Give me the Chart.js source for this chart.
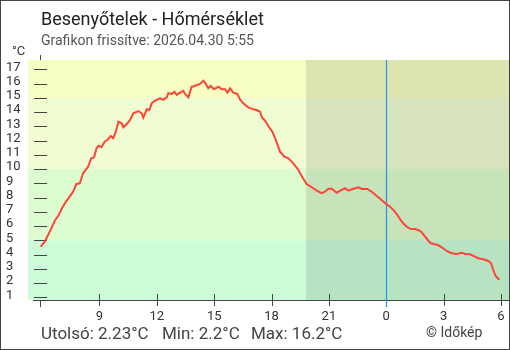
<!DOCTYPE html>
<html>
<head>
<meta charset="utf-8">
<script src="https://cdn.jsdelivr.net/npm/chart.js@4.4.1/dist/chart.umd.min.js"></script>
<style>
  html, body { margin: 0; padding: 0; background: #fff; }
  canvas { display: block; }
</style>
</head>
<body>
<canvas id="chart" width="510" height="350"></canvas>
<script>
// Station and refresh time shown in the header
const stationName = 'Besenyőtelek';
const updatedAt = '2026.04.30 5:55';

// Measurement times, in hours counted from the previous day's midnight (24 = midnight)
const hours = [
  5.917, 6.14, 6.31, 6.48, 6.66, 6.87, 7.04, 7.21, 7.44, 7.62,
  7.79, 7.97, 8.14, 8.40, 8.57, 8.72, 8.84, 8.96, 9.10, 9.27,
  9.45, 9.59, 9.71, 9.83, 9.99, 10.16, 10.25, 10.43, 10.60, 10.77,
  11.03, 11.21, 11.29, 11.47, 11.61, 11.73, 11.90, 12.17, 12.34, 12.52,
  12.60, 12.78, 12.91, 13.04, 13.21, 13.39, 13.47, 13.65, 13.82, 14.00,
  14.09, 14.26, 14.43, 14.52, 14.69, 14.82, 14.99, 15.22, 15.39, 15.57,
  15.69, 15.83, 16.00, 16.21, 16.35, 16.52, 16.78, 17.05, 17.22, 17.40,
  17.49, 17.66, 17.83, 18.04, 18.22, 18.35, 18.44, 18.67, 18.88, 19.14,
  19.40, 19.61, 19.84, 20.10, 20.36, 20.62, 20.80, 20.97, 21.15, 21.41,
  21.67, 21.84, 22.02, 22.25, 22.54, 22.72, 23.01, 23.24, 23.50, 23.76,
  23.99, 24.20, 24.37, 24.55, 24.72, 24.89, 25.07, 25.28, 25.50, 25.68,
  25.85, 26.03, 26.20, 26.34, 26.55, 26.72, 26.90, 27.16, 27.42, 27.68,
  27.95, 28.12, 28.38, 28.64, 28.81, 29.07, 29.34, 29.48, 29.60, 29.72,
  29.917
];

// Air temperature, °C
const temperatures = [
  4.55, 4.90, 5.37, 5.84, 6.37, 6.77, 7.25, 7.64, 8.06, 8.41,
  8.95, 9.00, 9.70, 10.16, 10.75, 10.82, 11.46, 11.64, 11.53, 11.92,
  12.09, 12.32, 12.16, 12.51, 13.32, 13.21, 12.93, 13.16, 13.44, 13.91,
  14.07, 13.91, 13.60, 14.19, 14.14, 14.61, 14.80, 14.96, 14.85, 15.03,
  15.32, 15.27, 15.43, 15.20, 15.36, 15.48, 15.27, 15.03, 15.78, 15.83,
  15.90, 15.97, 16.20, 16.06, 15.67, 15.83, 15.60, 15.78, 15.60, 15.60,
  15.36, 15.67, 15.36, 15.27, 14.89, 14.61, 14.33, 14.19, 14.14, 14.02,
  13.63, 13.39, 13.02, 12.62, 12.04, 11.57, 11.22, 10.87, 10.75, 10.40,
  9.93, 9.42, 8.95, 8.72, 8.48, 8.30, 8.41, 8.62, 8.62, 8.34,
  8.53, 8.65, 8.48, 8.60, 8.72, 8.60, 8.60, 8.41, 8.11, 7.83,
  7.55, 7.36, 7.13, 6.84, 6.49, 6.19, 5.95, 5.79, 5.79, 5.72,
  5.56, 5.25, 4.97, 4.79, 4.72, 4.65, 4.51, 4.25, 4.09, 4.04,
  4.13, 4.04, 4.02, 3.85, 3.74, 3.67, 3.55, 3.39, 2.91, 2.49,
  2.23
];

// Axis ticks
const yTickValues = [1, 2, 3, 4, 5, 6, 7, 8, 9, 10, 11, 12, 13, 14, 15, 16, 17];
const xTickHours = [9, 12, 15, 18, 21, 24, 27, 30];

// Temperature band limits for the background (°C) and the night period (hours)
const bandLimits = [5, 10, 15];
const sunsetHour = 19.8;
const midnightHour = 24;

const FONT = 'Roboto, "Open Sans", sans-serif';
const bandColors = ['#ccfdd8', '#ddfdd0', '#f0fdd3', '#f6fec3'];

const backdrop = {
  id: 'backdrop',
  beforeDraw(chart) {
    const { ctx, chartArea: a, scales: { x, y } } = chart;
    ctx.save();
    ctx.fillStyle = '#fff';
    ctx.fillRect(0, 0, chart.width, chart.height);

    // vertical axis line at the start of the series (mostly hidden by the bands)
    const ax = Math.floor(x.getPixelForValue(hours[0])) + 0.5;
    ctx.strokeStyle = '#444';
    ctx.lineWidth = 1;
    ctx.beginPath();
    ctx.moveTo(ax, a.top - 5);
    ctx.lineTo(ax, a.bottom + 7);
    ctx.stroke();

    // temperature bands
    const edges = [y.min, ...bandLimits, y.max];
    for (let i = 0; i < edges.length - 1; i++) {
      const top = y.getPixelForValue(edges[i + 1]);
      const bot = y.getPixelForValue(edges[i]);
      ctx.fillStyle = bandColors[i];
      ctx.fillRect(a.left, top, a.right - a.left, bot - top);
    }

    // night shading
    const nx = x.getPixelForValue(sunsetHour);
    ctx.fillStyle = 'rgba(0,0,0,0.1)';
    ctx.fillRect(nx, a.top, a.right - nx, a.bottom - a.top);

    // tick marks crossing the axes
    ctx.strokeStyle = '#444';
    ctx.beginPath();
    yTickValues.forEach(v => {
      const py = Math.round(y.getPixelForValue(v)) + 0.5;
      ctx.moveTo(ax - 6.5, py);
      ctx.lineTo(ax + 6.5, py);
    });
    xTickHours.forEach(h => {
      const px = Math.round(x.getPixelForValue(h)) + 0.5;
      ctx.moveTo(px, a.bottom - 6);
      ctx.lineTo(px, a.bottom + 6);
    });
    ctx.stroke();

    // horizontal axis line
    ctx.beginPath();
    ctx.moveTo(ax - 7.5, a.bottom + 0.5);
    ctx.lineTo(a.right, a.bottom + 0.5);
    ctx.stroke();
    ctx.restore();
  },
  beforeDatasetsDraw(chart) {
    const { ctx, chartArea: a, scales: { x } } = chart;
    const mx = Math.round(x.getPixelForValue(midnightHour)) + 0.5;
    ctx.save();
    ctx.strokeStyle = '#2196f3';
    ctx.lineWidth = 1.2;
    ctx.beginPath();
    ctx.moveTo(mx, a.top);
    ctx.lineTo(mx, a.bottom + 7);
    ctx.stroke();
    ctx.restore();
  },
  afterDraw(chart) {
    const { ctx } = chart;
    ctx.save();
    ctx.textBaseline = 'alphabetic';
    ctx.textAlign = 'left';

    ctx.fillStyle = '#222';
    ctx.font = `18px ${FONT}`;
    ctx.fillText(`${stationName} - Hőmérséklet`, 41, 25);

    ctx.fillStyle = '#555';
    ctx.font = `14px ${FONT}`;
    ctx.fillText(`Grafikon frissítve: ${updatedAt}`, 41, 45);

    ctx.fillStyle = '#333';
    ctx.font = `13px ${FONT}`;
    ctx.fillText('°C', 12, 55);

    const last = temperatures[temperatures.length - 1];
    const min = Math.min(...temperatures);
    const max = Math.max(...temperatures);
    ctx.fillStyle = '#444';
    ctx.font = `17px ${FONT}`;
    ctx.fillText(`Utolsó: ${last.toFixed(2)}°C`, 41, 339);
    ctx.fillText(`Min: ${min.toFixed(1)}°C`, 162, 339);
    ctx.fillText(`Max: ${max.toFixed(1)}°C`, 251, 339);

    ctx.font = `14px ${FONT}`;
    ctx.fillText('© Időkép', 426, 337);

    // outer frame
    ctx.strokeStyle = '#444';
    ctx.lineWidth = 1;
    ctx.strokeRect(0.5, 0.5, chart.width - 1, chart.height - 1);
    ctx.restore();
  }
};

const noEdgePadding = s => {
  s.paddingLeft = 0; s.paddingRight = 0; s.paddingTop = 0; s.paddingBottom = 0;
};

new Chart(document.getElementById('chart'), {
  type: 'line',
  data: {
    datasets: [{
      data: hours.map((h, i) => ({ x: h, y: temperatures[i] })),
      borderColor: '#ff4439',
      borderWidth: 2,
      pointRadius: 0,
      tension: 0,
      fill: false
    }]
  },
  plugins: [backdrop],
  options: {
    responsive: false,
    animation: false,
    layout: { padding: { left: 6, right: 1, top: 60, bottom: 0 } },
    plugins: { legend: { display: false }, tooltip: { enabled: false } },
    scales: {
      x: {
        type: 'linear',
        min: 5.26,
        max: 30.42,
        afterBuildTicks: s => { s.ticks = xTickHours.map(v => ({ value: v })); },
        afterFit: s => { s.height = 50; noEdgePadding(s); },
        grid: { display: false, drawTicks: false },
        border: { display: false },
        ticks: {
          autoSkip: false,
          maxRotation: 0,
          padding: 9,
          color: '#333',
          font: { family: FONT, size: 13 },
          callback: v => String(v % 24)
        }
      },
      y: {
        min: 0.81,
        max: 17.65,
        afterBuildTicks: s => { s.ticks = yTickValues.map(v => ({ value: v })); },
        afterFit: s => { s.width = 22; noEdgePadding(s); },
        grid: { display: false, drawTicks: false },
        border: { display: false },
        ticks: {
          autoSkip: false,
          crossAlign: 'far',
          labelOffset: -2,
          color: '#333',
          font: { family: FONT, size: 13 }
        }
      }
    }
  }
});
</script>
</body>
</html>
